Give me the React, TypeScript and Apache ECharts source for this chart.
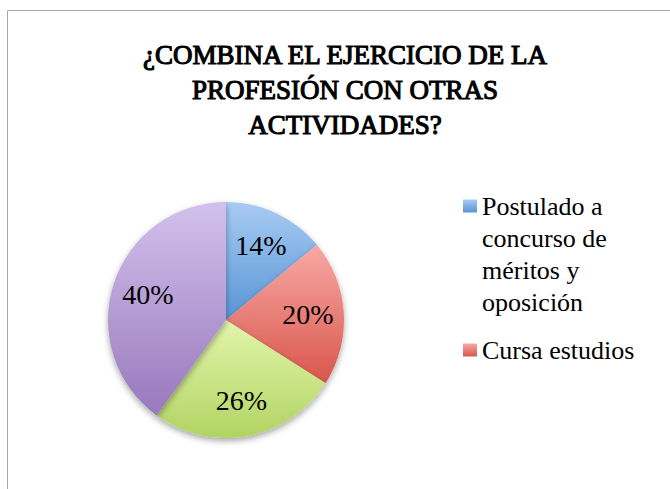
import React, { useEffect, useRef } from "react";
import * as echarts from "echarts";

const titleLines = ["¿COMBINA EL EJERCICIO DE LA", "PROFESIÓN CON OTRAS", "ACTIVIDADES?"];
const categories = [
  "Postulado a concurso de méritos y oposición",
  "Cursa estudios",
  "Trabaja en otra actividad",
  "Ninguna",
];
const values = [14, 20, 26, 40];
const legendWrapped = ["Postulado a\nconcurso de\nméritos y\noposición", "Cursa estudios"];
const colorTop = ["#a9cbf2", "#f8a9a4", "#e2f6ab", "#d3c1ec"];
const colorBottom = ["#5795d6", "#d9564c", "#b1d363", "#9878bd"];

export default function App() {
  const ref = useRef<HTMLDivElement>(null);
  useEffect(() => {
    if (!ref.current) return;
    const chart = echarts.init(ref.current, undefined, { renderer: "svg" });
    const data = categories.map((name, i) => ({
      name,
      value: values[i],
      itemStyle: {
        color: new echarts.graphic.LinearGradient(0, 0, 0, 1, [
          { offset: 0, color: colorTop[i] },
          { offset: 1, color: colorBottom[i] },
        ]),
      },
    }));
    const serif = "Liberation Serif";
    chart.setOption({
      animation: false,
      backgroundColor: "#ffffff",
      legend: [
        {
          data: [categories[0]],
          left: 458,
          top: 89,
          orient: "vertical",
          itemWidth: 14,
          itemHeight: 13,
          itemGap: 6,
          icon: "rect",
          formatter: () => "{pad| }\n{t|" + legendWrapped[0] + "}",
          textStyle: {
            fontFamily: serif,
            fontSize: 26,
            color: "#000",
            rich: {
              pad: { height: 96, lineHeight: 96, fontSize: 10 },
              t: { fontFamily: serif, fontSize: 26, lineHeight: 32, color: "#000" },
            },
          },
        },
        {
          data: [categories[1]],
          left: 458,
          top: 332,
          orient: "vertical",
          itemWidth: 14,
          itemHeight: 13,
          icon: "rect",
          formatter: () => legendWrapped[1],
          textStyle: { fontFamily: serif, fontSize: 26, color: "#000" },
        },
      ],
      graphic: [
        {
          type: "rect",
          shape: { x: 7.5, y: 10.5, width: 700, height: 500 },
          style: { fill: "none", stroke: "#a6a6a6", lineWidth: 1 },
          silent: true,
        },
        {
          type: "text",
          x: 345,
          y: 37,
          silent: true,
          style: {
            text: titleLines.join("\n"),
            font: "normal 27px 'Liberation Serif'",
            fontFamily: serif,
            fontSize: 27,
            lineHeight: 35,
            textAlign: "center",
            textVerticalAlign: "top",
            verticalAlign: "top",
            fill: "#000000",
            stroke: "#000000",
            lineWidth: 1.1,
          },
        },
      ],
      series: [
        {
          type: "pie",
          center: [226, 320],
          radius: [0, 118],
          startAngle: 90,
          clockwise: true,
          label: { show: false },
          labelLine: { show: false },
          itemStyle: {
            shadowBlur: 6,
            shadowOffsetY: 3,
            shadowColor: "rgba(0,0,0,0.35)",
          },
          data,
        },
        {
          type: "pie",
          center: [226, 320],
          radius: [40, 118],
          startAngle: 90,
          clockwise: true,
          silent: true,
          legendHoverLink: false,
          itemStyle: { color: "transparent" },
          label: {
            show: true,
            position: "inside",
            formatter: "{c}%",
            fontFamily: serif,
            fontSize: 28,
            color: "#000",
          },
          labelLine: { show: false },
          data: categories.map((name, i) => ({ name, value: values[i] })),
        },
      ],
    });
    return () => chart.dispose();
  }, []);
  return (
    <div
      ref={ref}
      style={{ position: "fixed", left: 0, top: 0, width: 670, height: 489 }}
    />
  );
}
